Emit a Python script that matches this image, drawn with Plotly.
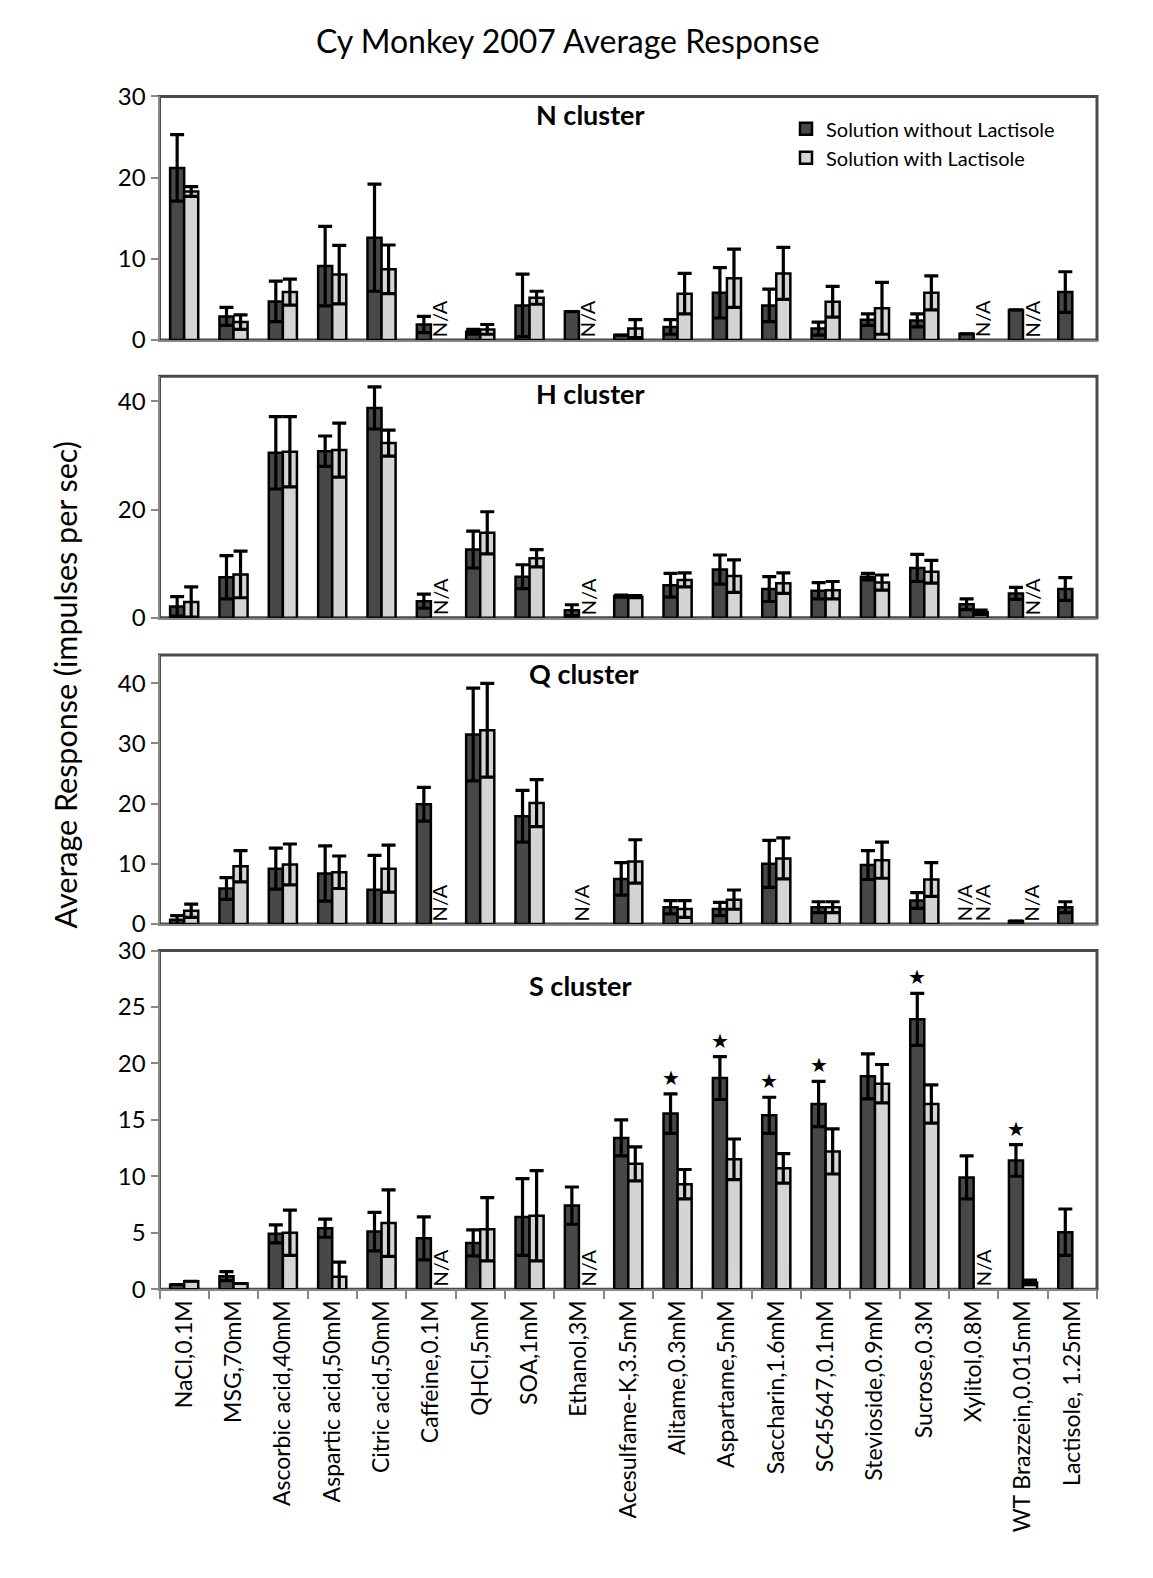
import plotly.graph_objects as go

categories = ["NaCl,0.1M", "MSG,70mM", "Ascorbic acid,40mM", "Aspartic acid,50mM",
              "Citric acid,50mM", "Caffeine,0.1M", "QHCl,5mM", "SOA,1mM", "Ethanol,3M",
              "Acesulfame-K,3.5mM", "Alitame,0.3mM", "Aspartame,5mM", "Saccharin,1.6mM",
              "SC45647,0.1mM", "Stevioside,0.9mM", "Sucrose,0.3M", "Xylitol,0.8M",
              "WT Brazzein,0.015mM", "Lactisole, 1.25mM"]

# N cluster
n_without = [21.2, 2.9, 4.75, 9.1, 12.6, 1.9, 1.0, 4.25, 3.5, 0.6, 1.6, 5.8, 4.25, 1.4, 2.5, 2.4, 0.75, 3.7, 5.9]
n_without_err = [4.1, 1.1, 2.5, 4.9, 6.6, 1.0, 0.3, 3.85, None, None, 0.9, 3.1, 2.0, 0.8, 0.7, 0.8, None, None, 2.5]
n_with = [18.3, 2.2, 5.9, 8.05, 8.7, None, 1.3, 5.2, None, 1.4, 5.7, 7.6, 8.2, 4.7, 3.9, 5.8, None, None, None]
n_with_err = [0.6, 0.9, 1.6, 3.6, 3.0, None, 0.6, 0.8, None, 1.1, 2.5, 3.6, 3.2, 1.9, 3.2, 2.1, None, None, None]
n_na = [("Caffeine,0.1M", "with"), ("Ethanol,3M", "with"), ("Xylitol,0.8M", "with"), ("WT Brazzein,0.015mM", "with")]

# H cluster
h_without = [2.1, 7.5, 30.5, 30.8, 38.8, 3.05, 12.6, 7.6, 1.4, 4.0, 6.0, 8.9, 5.3, 5.0, 7.6, 9.2, 2.5, 4.5, 5.3]
h_without_err = [1.8, 4.0, 6.7, 2.8, 3.9, 1.3, 3.4, 2.2, 1.0, 0.2, 2.2, 2.7, 2.3, 1.5, 0.6, 2.5, 1.0, 1.1, 2.1]
h_with = [2.9, 8.0, 30.7, 31.0, 32.3, None, 15.7, 11.0, None, 3.9, 7.0, 7.7, 6.4, 5.1, 6.5, 8.5, 1.0, None, None]
h_with_err = [2.8, 4.3, 6.5, 5.0, 2.4, None, 3.9, 1.6, None, 0.2, 1.3, 3.0, 1.9, 1.6, 1.4, 2.1, 0.4, None, None]
h_na = [("Caffeine,0.1M", "with"), ("Ethanol,3M", "with"), ("WT Brazzein,0.015mM", "with")]

# Q cluster
q_without = [0.7, 5.9, 9.2, 8.4, 5.7, 19.9, 31.5, 17.9, None, 7.5, 2.8, 2.5, 10.0, 2.8, 9.8, 3.9, None, 0.5, 2.8]
q_without_err = [0.7, 1.8, 3.4, 4.6, 5.7, 2.8, 7.7, 4.3, None, 2.7, 1.1, 1.1, 3.9, 0.9, 2.4, 1.3, None, None, 0.9]
q_with = [2.2, 9.6, 9.9, 8.6, 9.2, None, 32.2, 20.1, None, 10.4, 2.5, 4.05, 10.9, 2.8, 10.6, 7.4, None, None, None]
q_with_err = [1.1, 2.6, 3.4, 2.7, 3.9, None, 7.8, 3.9, None, 3.6, 1.4, 1.6, 3.4, 0.9, 3.0, 2.8, None, None, None]
q_na = [("Caffeine,0.1M", "with"), ("Ethanol,3M", "both"), ("Xylitol,0.8M", "without"),
        ("Xylitol,0.8M", "with"), ("WT Brazzein,0.015mM", "with")]

# S cluster
s_without = [0.4, 1.15, 4.9, 5.4, 5.1, 4.5, 4.1, 6.4, 7.4, 13.4, 15.55, 18.7, 15.4, 16.4, 18.85, 23.9, 9.9, 11.4, 5.05]
s_without_err = [None, 0.4, 0.8, 0.8, 1.7, 1.9, 1.15, 3.4, 1.65, 1.6, 1.75, 1.9, 1.6, 2.0, 2.0, 2.3, 1.9, 1.4, 2.05]
s_with = [0.7, 0.5, 5.0, 1.1, 5.85, None, 5.3, 6.5, None, 11.1, 9.3, 11.5, 10.7, 12.2, 18.2, 16.4, None, 0.6, None]
s_with_err = [None, None, 2.0, 1.3, 2.95, None, 2.8, 4.0, None, 1.5, 1.3, 1.8, 1.3, 2.0, 1.7, 1.7, None, 0.2, None]
s_na = [("Caffeine,0.1M", "with"), ("Ethanol,3M", "with"), ("Xylitol,0.8M", "with")]
s_stars = ["Alitame,0.3mM", "Aspartame,5mM", "Saccharin,1.6mM", "SC45647,0.1mM",
           "Sucrose,0.3M", "WT Brazzein,0.015mM"]

panel_titles = ["N cluster", "H cluster", "Q cluster", "S cluster"]
y_ranges = [30, 44.65, 44.7, 30]
y_ticks = [[0, 10, 20, 30], [0, 20, 40], [0, 10, 20, 30, 40], [0, 5, 10, 15, 20, 25, 30]]

# ---- layout geometry (pixels) ----
W, H = 1153, 1578
FONT = "Lato, 'Open Sans', sans-serif"
DARK = "#484848"
LIGHT = "#d4d4d4"
AXIS_GREY = "#878787"
BORDER = "#4a4a4a"
x_left, x_right = 159.5, 1097
panel_px = [(82, 330), (367, 613), (651, 925), (952, 1297)]
title_px = [(590, 100), (590, 385), (584, 670), (580, 988)]


def py(v):
    return 1 - v / H


panels = [
    (n_without, n_without_err, n_with, n_with_err, n_na),
    (h_without, h_without_err, h_with, h_with_err, h_na),
    (q_without, q_without_err, q_with, q_with_err, q_na),
    (s_without, s_without_err, s_with, s_with_err, s_na),
]

fig = go.Figure()
annotations = []
shapes = []
layout_axes = {}

for i, (wo, woe, wi, wie, na) in enumerate(panels):
    k = "" if i == 0 else str(i + 1)
    xa, ya = "x" + k, "y" + k
    fig.add_trace(go.Bar(
        x=categories, y=wo, name="Solution without Lactisole",
        marker=dict(color=DARK, line=dict(color="black", width=2.5)),
        error_y=dict(type="data", array=woe, symmetric=True, color="black", thickness=3.2, width=7),
        xaxis=xa, yaxis=ya, showlegend=(i == 0), legendgroup="wo", offsetgroup="wo"))
    fig.add_trace(go.Bar(
        x=categories, y=wi, name="Solution with Lactisole",
        marker=dict(color=LIGHT, line=dict(color="black", width=2.5)),
        error_y=dict(type="data", array=wie, symmetric=True, color="black", thickness=3.2, width=7),
        xaxis=xa, yaxis=ya, showlegend=(i == 0), legendgroup="wi", offsetgroup="wi"))

    top, bot = panel_px[i]
    last = (i == 3)
    layout_axes["xaxis" + k] = dict(
        domain=[x_left / W, x_right / W], anchor=ya, type="category",
        categoryorder="array", categoryarray=categories,
        showline=True, linecolor=AXIS_GREY, linewidth=2,
        showgrid=False, zeroline=False,
        ticks="outside" if last else "", tickson="boundaries", ticklen=8,
        tickwidth=2, tickcolor=AXIS_GREY,
        showticklabels=last, tickangle=-90,
        tickfont=dict(family=FONT, size=23, color="black"))
    layout_axes["yaxis" + k] = dict(
        domain=[py(bot), py(top)], anchor=xa, range=[0, y_ranges[i]],
        tickvals=y_ticks[i], showline=True, linecolor=AXIS_GREY, linewidth=2,
        showgrid=False, zeroline=False, ticks="outside", ticklen=7, tickwidth=2,
        tickcolor=AXIS_GREY, tickfont=dict(family=FONT, size=24, color="black"))

    shapes.append(dict(type="rect", xref="paper", yref="paper",
                       x0=x_left / W, x1=x_right / W, y0=py(bot), y1=py(top),
                       line=dict(color=BORDER, width=3), layer="below"))

    tx, ty = title_px[i]
    annotations.append(dict(text="<b>" + panel_titles[i] + "</b>", xref="paper", yref="paper",
                            x=tx / W, y=py(ty), xanchor="center", yanchor="middle",
                            showarrow=False, font=dict(family=FONT, size=27, color="black")))

    for cat, which in na:
        shift = {"with": 9, "without": -9, "both": 3}[which]
        annotations.append(dict(text="N/A", xref=xa, yref=ya, x=cat, y=0,
                                xanchor="center", yanchor="bottom", textangle=-90,
                                xshift=shift, yshift=1, showarrow=False,
                                font=dict(family=FONT, size=20, color="black")))

    if last:
        for cat in s_stars:
            j = categories.index(cat)
            annotations.append(dict(text="★", xref=xa, yref=ya, x=cat,
                                    y=s_without[j] + s_without_err[j],
                                    xanchor="center", yanchor="bottom", xshift=-7, yshift=2,
                                    showarrow=False,
                                    font=dict(family="DejaVu Sans", size=20, color="black")))

annotations.append(dict(text="Cy Monkey 2007 Average Response", xref="paper", yref="paper",
                        x=568 / W, y=py(25), xanchor="center", yanchor="middle",
                        showarrow=False, font=dict(family=FONT, size=32, color="black")))
annotations.append(dict(text="Average Response (impulses per sec)", xref="paper", yref="paper",
                        x=65 / W, y=py(682), xanchor="center", yanchor="middle",
                        showarrow=False, textangle=-90,
                        font=dict(family=FONT, size=30.5, color="black")))

fig.update_layout(
    width=W, height=H, margin=dict(l=0, r=0, t=0, b=0),
    paper_bgcolor="white", plot_bgcolor="white",
    barmode="group", bargap=0.43, bargroupgap=0,
    showlegend=True,
    legend=dict(x=786 / W, y=py(95), xanchor="left", yanchor="top",
                font=dict(family=FONT, size=20, color="black"),
                bgcolor="rgba(0,0,0,0)", tracegroupgap=0, itemwidth=30),
    annotations=annotations, shapes=shapes,
    **layout_axes)

fig.write_html("out.html", config={"displayModeBar": False},
               post_script="document.body.style.margin='0';")
